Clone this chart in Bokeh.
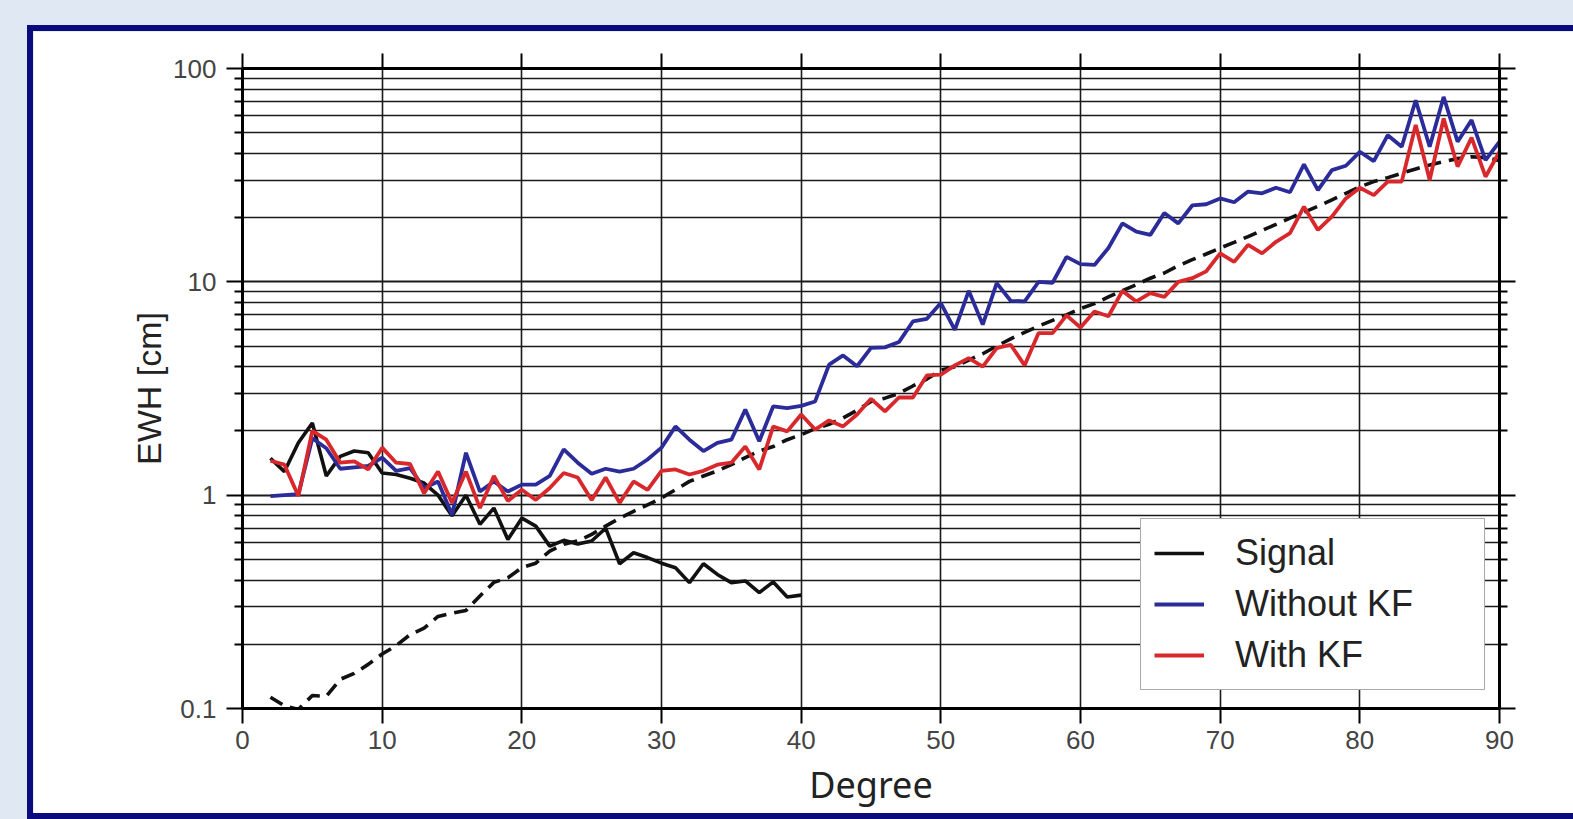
from bokeh.plotting import figure
from bokeh.models import (FixedTicker, LinearAxis, LogAxis, CustomJSTickFormatter, Legend)
from bokeh.embed import file_html
from bokeh.resources import INLINE

# ---------------- data ----------------
degrees = list(range(2, 91))
signal_degrees = list(range(2, 41))

without_kf = [0.99, 1.0, 1.01, 1.85, 1.66, 1.33, 1.35, 1.37, 1.50, 1.30, 1.34, 1.08, 1.16, 0.81,
              1.58, 1.04, 1.16, 1.04, 1.12, 1.12, 1.23, 1.64, 1.42, 1.26, 1.33, 1.29, 1.33, 1.47,
              1.67, 2.10, 1.82, 1.61, 1.76, 1.82, 2.52, 1.79, 2.61, 2.56, 2.62, 2.75, 4.09, 4.52,
              4.02, 4.9, 4.93, 5.22, 6.52, 6.71, 7.95, 5.96, 9.08, 6.3, 9.86, 8.15, 8.1, 10.0, 9.9,
              13.1, 12.1, 12.0, 14.4, 18.8, 17.2, 16.6, 21.0, 18.8, 22.8, 23.1, 24.6, 23.6, 26.5,
              26.0, 27.6, 26.3, 35.5, 26.9, 33.4, 35.0, 40.7, 36.8, 48.7, 43.0, 71.0, 43.0, 73.6,
              45.4, 57.3, 37.2, 45.4]

with_kf = [1.45, 1.39, 0.99, 2.0, 1.82, 1.42, 1.44, 1.32, 1.67, 1.42, 1.40, 1.02, 1.29, 0.92,
           1.29, 0.87, 1.23, 0.94, 1.06, 0.95, 1.08, 1.27, 1.21, 0.95, 1.21, 0.92, 1.16, 1.06,
           1.30, 1.32, 1.25, 1.30, 1.39, 1.42, 1.69, 1.32, 2.1, 1.99, 2.39, 2.03, 2.24, 2.1,
           2.39, 2.83, 2.47, 2.87, 2.87, 3.64, 3.67, 4.06, 4.39, 4.0, 4.89, 5.07, 4.06, 5.75,
           5.75, 6.96, 6.11, 7.26, 6.9, 9.07, 8.09, 8.85, 8.5, 10.0, 10.4, 11.2, 13.6, 12.4,
           14.9, 13.6, 15.4, 16.9, 22.5, 17.5, 20.2, 24.6, 27.6, 25.5, 29.5, 29.5, 54.3, 30.0,
           58.3, 34.7, 47.4, 31.1, 40.7]

signal = [1.49, 1.29, 1.76, 2.18, 1.23, 1.52, 1.61, 1.58, 1.27, 1.25, 1.2, 1.14, 1.0, 0.80,
          1.0, 0.73, 0.87, 0.62, 0.78, 0.716, 0.577, 0.614, 0.59, 0.61, 0.70, 0.477, 0.537,
          0.51, 0.48, 0.457, 0.389, 0.477, 0.425, 0.389, 0.396, 0.349, 0.392, 0.333, 0.34]

dashed = [0.113, 0.103, 0.099, 0.115, 0.114, 0.137, 0.146, 0.161, 0.18, 0.197, 0.222, 0.238,
          0.27, 0.28, 0.288, 0.337, 0.39, 0.41, 0.457, 0.48, 0.547, 0.588, 0.61, 0.655, 0.716,
          0.78, 0.84, 0.9, 0.97, 1.06, 1.16, 1.23, 1.30, 1.39, 1.50, 1.61, 1.69, 1.82, 1.92,
          2.05, 2.15, 2.3, 2.5, 2.75, 2.85, 3.0, 3.25, 3.5, 3.85, 4.0, 4.3, 4.6, 5.0, 5.4, 5.8,
          6.2, 6.6, 7.0, 7.5, 7.9, 8.5, 9.1, 9.7, 10.4, 11.0, 11.9, 12.7, 13.5, 14.4, 15.3,
          16.3, 17.4, 18.6, 19.9, 21.2, 22.6, 24.2, 26.0, 27.9, 29.5, 30.8, 32.3, 33.8, 35.3,
          36.6, 37.8, 38.6, 38.2, 37.0]

x_ticks = [0, 10, 20, 30, 40, 50, 60, 70, 80, 90]
y_ticks = [0.1, 1, 10, 100]
y_minor_ticks = [m * d for d in (0.1, 1, 10) for m in range(2, 10)]

series_names = ["Signal", "Without KF", "With KF"]

# ---------------- figure ----------------
W, H = 1540, 782
p = figure(width=W, height=H, y_axis_type="log", x_range=(0, 90), y_range=(0.1, 100),
           output_backend="svg", toolbar_location=None,
           min_border_left=209, min_border_right=74, min_border_top=37, min_border_bottom=105)
p.margin = (31, 0, 0, 33)
p.styles = {"box-shadow": "0 0 0 6px #0b0b7d"}
p.background_fill_color = "white"
p.border_fill_color = "white"
p.outline_line_color = None

GRID = "#1a1a1a"
xt = FixedTicker(ticks=x_ticks)
yt = FixedTicker(ticks=y_ticks, minor_ticks=y_minor_ticks)
fmt = CustomJSTickFormatter(code="return tick >= 1 ? tick.toFixed(0) : tick.toFixed(1);")

p.xgrid.ticker = xt
p.xgrid.grid_line_color = GRID
p.xgrid.grid_line_width = 1.6
p.ygrid.ticker = yt
p.ygrid.grid_line_color = GRID
p.ygrid.grid_line_width = 2
p.ygrid.minor_grid_line_color = GRID
p.ygrid.minor_grid_line_width = 1.7

def style_axis(ax, major_out, minor_out, labels=True):
    ax.axis_line_width = 3
    ax.axis_line_color = "black"
    ax.major_tick_line_width = 2
    ax.major_tick_line_color = "black"
    ax.major_tick_out = major_out
    ax.major_tick_in = 0
    ax.minor_tick_line_width = 2
    ax.minor_tick_line_color = "black" if minor_out else None
    ax.minor_tick_out = minor_out
    ax.minor_tick_in = 0
    ax.major_label_text_font = "Liberation Sans"
    ax.major_label_text_font_size = "26px"
    ax.major_label_text_color = "#444444" if labels else None

xa = p.xaxis[0]
xa.ticker = xt
style_axis(xa, 15, 0)
xa.major_label_standoff = 7
xa.axis_label = "Degree"
xa.axis_label_text_font = "Noto Sans"
xa.axis_label_text_font_size = "36px"
xa.axis_label_text_font_style = "normal"
xa.axis_label_text_color = "#222222"
xa.axis_label_standoff = 8

ya = p.yaxis[0]
ya.ticker = yt
ya.formatter = fmt
style_axis(ya, 16, 8)
ya.major_label_standoff = 10
ya.axis_label = "EWH [cm]"
ya.axis_label_text_font = "Liberation Sans"
ya.axis_label_text_font_size = "34px"
ya.axis_label_text_font_style = "normal"
ya.axis_label_text_color = "#222222"
ya.axis_label_standoff = 2

top = LinearAxis(ticker=xt)
style_axis(top, 15, 0, labels=False)
top.major_label_text_font_size = "1px"
p.add_layout(top, "above")

right = LogAxis(ticker=yt, formatter=fmt)
style_axis(right, 16, 8, labels=False)
right.major_label_text_font_size = "1px"
p.add_layout(right, "right")

p.line(degrees, dashed, line_color="#111111", line_width=3.6, line_dash="14 8")
r_sig = p.line(signal_degrees, signal, line_color="#111111", line_width=3.6)
r_blue = p.line(degrees, without_kf, line_color="#2b2c9a", line_width=3.8)
r_red = p.line(degrees, with_kf, line_color="#d8282c", line_width=3.8)

legend = Legend(items=[(series_names[0], [r_sig]), (series_names[1], [r_blue]),
                       (series_names[2], [r_red])],
                location=(898, 18), margin=0, padding=13, spacing=9,
                label_height=40, glyph_height=40, glyph_width=50, label_standoff=31,
                label_width=236,
                label_text_font="Liberation Sans", label_text_font_size="36px",
                label_text_color="#222222",
                border_line_color="#555555", border_line_width=1.5,
                background_fill_color="white", background_fill_alpha=1.0)
p.add_layout(legend, "center")

html = file_html(p, INLINE)
head_end = html.find("</head>")
body_at = html.find("<body>", head_end if head_end >= 0 else 0)
if body_at >= 0:
    html = (html[:body_at] + '<body style="background-color:#dfe8f3;overflow:hidden">'
            + html[body_at + len("<body>"):])
open("out.html", "w").write(html)
